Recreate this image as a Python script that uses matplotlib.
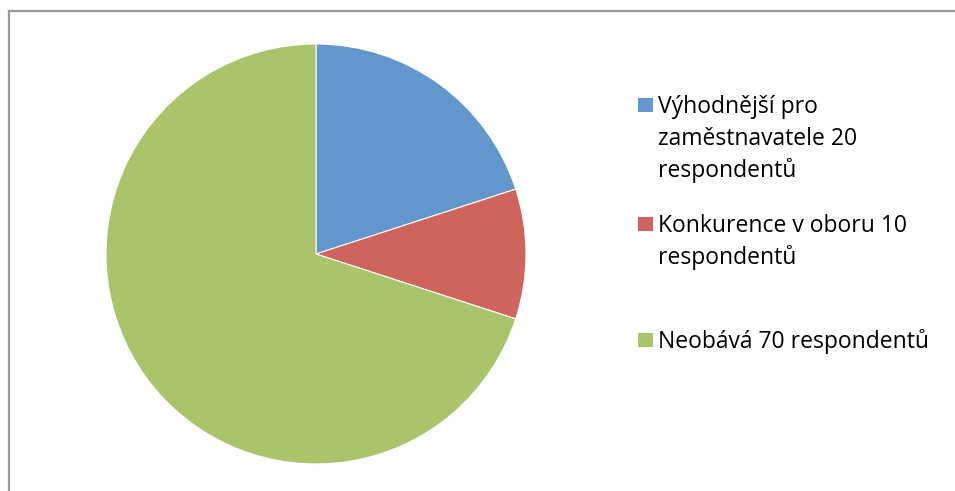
import matplotlib
matplotlib.use("Agg")
from matplotlib import pyplot as plt
from matplotlib.patches import Rectangle
from matplotlib.lines import Line2D

labels = ["Výhodnější pro\nzaměstnavatele 20\nrespondentů",
          "Konkurence v oboru 10\nrespondentů",
          "Neobává 70 respondentů"]
values = [20, 10, 70]
colors = ["#6296CD", "#CF645D", "#AAC46C"]

fig = plt.figure(figsize=(9.55, 4.91), dpi=100)
W, H = 955, 491

# chart frame (only top and left visible in the crop)
fig.add_artist(Line2D([8.5 / W, 8.5 / W], [0, 1 - 10.5 / H], transform=fig.transFigure,
                      color="#9a9a9a", lw=1.6))
fig.add_artist(Line2D([8.5 / W, 1], [1 - 10.5 / H, 1 - 10.5 / H], transform=fig.transFigure,
                      color="#9a9a9a", lw=1.6))

ax = fig.add_axes([(316 - 210) / W, (491 - 464) / H, 420 / W, 420 / H])
ax.pie(values, colors=colors, startangle=90, counterclock=False,
       wedgeprops=dict(edgecolor="white", linewidth=0.8))
ax.set_aspect("equal")
ax.set_xlim(-1, 1)
ax.set_ylim(-1, 1)
ax.axis("off")

# legend entries drawn by hand so the swatch sits on the first line
baselines = [113, 232, 348]
pitch = 32
for lab, col, base in zip(labels, colors, baselines):
    fig.add_artist(Rectangle((638 / W, 1 - (base - 1) / H), 15 / W, 14 / H,
                             transform=fig.transFigure, facecolor=col, edgecolor="none"))
    for i, line in enumerate(lab.split("\n")):
        fig.text(658 / W, 1 - (base + i * pitch) / H, line, fontsize=16.5,
                 family="Open Sans", va="baseline", ha="left", color="#000000")

plt.savefig("out.png", dpi=100)
